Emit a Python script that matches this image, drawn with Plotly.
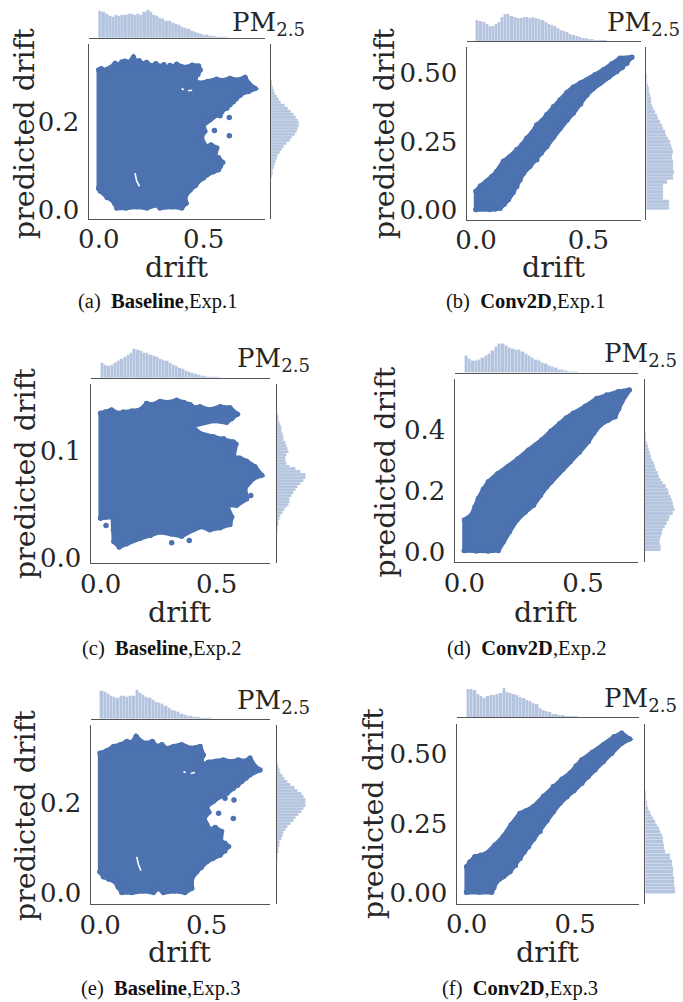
import plotly.graph_objects as go

W, H = 683, 1002
BLUE = "#4C72B0"
INK = "#262626"
SPINE = "#555555"
SERIF = "DejaVu Serif"

# ---- scatter envelopes (drift, predicted drift) ----
a_x = [0,0,.012,.022,.038,.055,.078,.092,.110,.125,.145,.165,.178,.192,.205,.228,.252,.272,.292,.310,.324,.340,.355,.371,.392,.419,.445,.475,.483,.472,.459,.443,.460,.483,.520,.562,.590,.625,.660,.697,.713,.744,.713,.690,.673,.655,.641,.625,.610,.585,.562,.530,.498,.505,.490,.498,.514,.535,.562,.554,.570,.590,.578,.570,.545,.514,.498,.483,.460,.435,.411,.416,.395,.350,.292,.276,.229,.180,.130,.086,.075,.062,.040,.022,.008]
a_y = [.049,.317,.320,.316,.318,.322,.332,.328,.335,.337,.334,.346,.336,.338,.332,.334,.326,.331,.325,.329,.321,.327,.324,.330,.325,.323,.328,.326,.317,.307,.298,.287,.291,.287,.291,.296,.293,.298,.294,.300,.287,.275,.268,.266,.260,.252,.245,.238,.230,.222,.215,.205,.192,.178,.166,.152,.143,.147,.140,.121,.118,.107,.098,.091,.086,.079,.072,.068,.055,.045,.030,.015,.004,.007,.004,.011,.004,.007,.004,.004,.015,.023,.028,.038,.042]
a_dots_x = [.622,.551,.622,.578]
a_dots_y = [.209,.180,.168,.213]
a_gap_x = [.173,.180,.194,None,.395,.405,None,.425,.445]
a_gap_y = [.083,.066,.053,None,.275,.272,None,.270,.271]

b_x = [0,0,.020,.047,.070,.092,.122,.150,.181,.205,.226,.250,.270,.295,.315,.345,.374,.405,.433,.465,.493,.530,.567,.605,.641,.693,.671,.650,.626,.590,.552,.520,.493,.465,.433,.405,.374,.345,.315,.290,.270,.240,.211,.195,.181,.165,.144,.125,.107,.085,.062]
b_y = [.003,.069,.088,.105,.122,.141,.178,.195,.220,.238,.262,.282,.310,.326,.347,.376,.401,.428,.447,.462,.473,.492,.510,.532,.552,.556,.534,.519,.504,.484,.461,.441,.419,.386,.353,.328,.298,.266,.232,.208,.184,.160,.135,.110,.087,.065,.039,.022,.008,.005,.003]

c_x = [0,0,.020,.047,.072,.098,.135,.170,.198,.225,.256,.292,.328,.358,.385,.405,.428,.470,.515,.557,.589,.565,.543,.490,.428,.392,.428,.486,.530,.572,.583,.572,.600,.629,.665,.694,.658,.622,.629,.586,.543,.565,.557,.515,.470,.435,.399,.349,.305,.256,.215,.170,.112,.080,.057,.055,.052]
c_y = [.037,.135,.136,.138,.135,.136,.137,.138,.144,.143,.146,.145,.147,.145,.143,.140,.141,.138,.141,.140,.134,.130,.1265,.128,.1255,.123,.116,.113,.111,.108,.106,.094,.093,.090,.085,.077,.074,.065,.055,.049,.049,.038,.031,.028,.026,.029,.026,.020,.022,.024,.021,.018,.013,.010,.015,.026,.038]
c_dots_x = [.023,.647,.306,.382]
c_dots_y = [.030,.058,.014,.016]

d_x = [0,0,.031,.045,.059,.080,.101,.140,.185,.225,.270,.300,.326,.365,.403,.430,.459,.510,.558,.600,.649,.695,.663,.650,.635,.605,.572,.545,.522,.485,.445,.415,.389,.365,.347,.320,.291,.255,.221,.190,.164,.143,.100,.050]
d_y = [.004,.104,.121,.148,.175,.205,.230,.256,.280,.305,.334,.350,.367,.396,.422,.440,.455,.478,.504,.515,.526,.532,.493,.470,.444,.432,.417,.390,.362,.328,.296,.272,.252,.230,.214,.185,.153,.130,.104,.066,.033,.004,.002,.002]

e_x = [0,0,.030,.063,.095,.125,.150,.169,.195,.219,.245,.266,.290,.313,.345,.383,.425,.469,.484,.475,.461,.508,.545,.578,.615,.648,.680,.703,.727,.750,.703,.685,.664,.645,.625,.595,.563,.530,.500,.510,.488,.500,.516,.540,.570,.566,.585,.602,.585,.563,.530,.500,.475,.453,.430,.430,.398,.350,.297,.273,.250,.205,.150,.102,.085,.070,.040,.016]
e_y = [.048,.311,.316,.326,.330,.337,.335,.348,.336,.333,.337,.326,.330,.321,.326,.330,.322,.326,.307,.294,.281,.291,.293,.296,.292,.296,.293,.300,.281,.274,.263,.256,.248,.240,.233,.222,.215,.204,.193,.180,.167,.153,.141,.146,.137,.115,.111,.104,.094,.085,.078,.070,.058,.048,.033,.011,.002,.005,.002,.011,.002,.005,.002,.002,.014,.026,.032,.037]
e_dots_x = [.628,.556,.625,.586]
e_dots_y = [.207,.178,.166,.211]
e_gap_x = [.172,.180,.192,None,.391,.402,None,.425,.445]
e_gap_y = [.081,.064,.050,None,.270,.268,None,.266,.268]

f_x = [0,0,.015,.038,.065,.092,.130,.169,.205,.246,.275,.308,.355,.400,.440,.477,.505,.531,.580,.631,.680,.715,.751,.715,.669,.630,.592,.560,.531,.495,.462,.430,.400,.370,.338,.310,.285,.265,.246,.225,.200,.170,.138,.125,.115,.060]
f_y = [.004,.095,.112,.131,.136,.143,.172,.203,.245,.286,.296,.310,.347,.382,.408,.430,.456,.477,.505,.531,.560,.573,.552,.537,.501,.471,.442,.418,.394,.368,.346,.322,.292,.260,.221,.195,.167,.148,.125,.100,.078,.060,.042,.020,.004,.004]

# ---- marginal histograms ----
a_top = [82,78,72,66,64,68,66,68,70,72,72,70,72,70,78,84,78,70,66,60,58,52,50,46,42,38,34,30,26,22,18,14,12,10,8,6,5,4,3,2,2,1,1,1,0,0,0,0,0,0]
a_right = [3,5,7,9,12,14,17,21,27,32,40,47,56,64,72,78,82,85,85,82,76,68,60,52,42,30,24,18,13,9,6,4,3,1,1]
b_top = [64,60,56,50,46,46,50,58,72,82,80,74,72,70,70,72,72,70,72,70,66,62,58,52,48,44,40,34,30,26,22,18,15,12,10,8,6,5,4,3,2,2,1,1,0,0,0,0,0,0]
b_right = [70,68,70,50,50,50,50,50,62,80,82,85,82,80,80,78,78,80,78,76,72,65,60,58,50,48,42,36,32,28,22,18,16,14,12,10,8,6,4,3,2,1]
c_top = [45,40,36,40,46,52,58,62,68,76,86,84,80,76,74,70,66,62,58,54,50,44,40,36,30,26,22,18,14,11,9,7,5,4,3,2,2,1,1,0,0,0,0,0,0,0,0,0,0,0]
c_right = [1,3,4,5,7,9,13,17,24,30,35,38,40,44,50,58,62,72,82,88,86,72,56,38,30,28,26,30,36,34,30,26,22,20,18,15,14,13,9,7,6,4]
d_top = [50,42,35,36,40,44,52,58,65,78,86,86,82,76,72,70,68,62,56,52,46,40,35,30,26,22,18,14,10,8,6,4,3,2,1,1,1,0,0,0,0,0,0,0,0,0,0,0,0,0]
d_right = [47,47,46,46,48,50,54,60,65,72,76,85,90,88,85,82,78,72,68,62,55,48,42,38,34,30,26,22,18,14,11,8,6,4,3,2,1]
e_top = [84,80,76,70,66,62,68,68,66,68,70,86,78,72,66,62,58,52,48,44,38,32,28,24,20,16,12,10,8,6,5,4,3,2,2,1,1,0,0,0,0,0,0,0,0,0,0,0,0,0]
e_right = [1,2,3,4,5,6,8,10,14,18,22,28,34,42,50,58,66,74,80,86,88,86,82,74,64,54,42,34,24,18,13,9,6,3,1]
f_top = [84,84,80,70,62,58,64,66,66,68,72,86,76,72,68,66,60,56,52,48,42,38,28,22,18,14,10,8,6,5,4,3,2,2,1,1,0,0,0,0,0,0,0,0,0,0,0,0,0,0]
f_right = [89,89,88,87,87,85,84,84,82,80,76,74,60,58,56,55,54,52,46,42,36,30,24,18,14,10,7,5,4,3,2,1,1]

captions = ["(a)\u00a0\u00a0<b>Baseline</b>,Exp.1", "(b)\u00a0\u00a0<b>Conv2D</b>,Exp.1",
            "(c)\u00a0\u00a0<b>Baseline</b>,Exp.2", "(d)\u00a0\u00a0<b>Conv2D</b>,Exp.2",
            "(e)\u00a0\u00a0<b>Baseline</b>,Exp.3", "(f)\u00a0\u00a0<b>Conv2D</b>,Exp.3"]

panels = [
    dict(bx=a_x, by=a_y, dx=a_dots_x, dy=a_dots_y, gx=a_gap_x, gy=a_gap_y, top=a_top, right=a_right,
         xr=[-.049,.792], yr=[-.021,.376], yt=[0,.2], yl=["0.0","0.2"],
         xb=.015, rs=.071, rd=.0068,
         f=(88.5,265,44,219), tl=38, rl=271, pm=(230,23), cap=(157,302), xt=(177,267), yti=(25,134)),
    dict(bx=b_x, by=b_y, dx=[], dy=[], gx=[], gy=[], top=b_top, right=b_right,
         xr=[-.0415,.734], yr=[-.035,.593], yt=[0,.25,.5], yl=["0.00","0.25","0.50"],
         xb=.0138, rs=0, rd=.0121,
         f=(466.7,641,47,220), tl=41.3, rl=646.3, pm=(605,23), cap=(525.5,302), xt=(554,267), yti=(385,134)),
    dict(bx=c_x, by=c_y, dx=c_dots_x, dy=c_dots_y, gx=[], gy=[], top=c_top, right=c_right,
         xr=[-.043,.730], yr=[-.0053,.162], yt=[0,.1], yl=["0.0","0.1"],
         xb=.0139, rs=.021, rd=.00274,
         f=(90.7,270,384.3,563.3), tl=378, rl=276.7, pm=(235,360), cap=(161,648), xt=(180,612), yti=(25,474)),
    dict(bx=d_x, by=d_y, dx=[], dy=[], gx=[], gy=[], top=d_top, right=d_right,
         xr=[-.041,.733], yr=[-.035,.567], yt=[0,.2,.4], yl=["0.0","0.2","0.4"],
         xb=.014, rs=0, rd=.011,
         f=(454.7,638.3,379.3,562.3), tl=372.7, rl=645, pm=(602,354), cap=(526,648), xt=(546,612), yti=(385,472.5)),
    dict(bx=e_x, by=e_y, dx=e_dots_x, dy=e_dots_y, gx=e_gap_x, gy=e_gap_y, top=e_top, right=e_right,
         xr=[-.044,.797], yr=[-.0244,.373], yt=[0,.2], yl=["0.0","0.2"],
         xb=.015, rs=.063, rd=.0067,
         f=(90.7,270,725.3,904.3), tl=719, rl=276.7, pm=(235,701), cap=(160.7,988), xt=(180,952), yti=(25,816)),
    dict(bx=f_x, by=f_y, dx=[], dy=[], gx=[], gy=[], top=f_top, right=f_right,
         xr=[-.046,.795], yr=[-.037,.607], yt=[0,.25,.5], yl=["0.00","0.25","0.50"],
         xb=.015, rs=0, rd=.0119,
         f=(456.7,639,723.7,903.7), tl=717.3, rl=645.3, pm=(602,699), cap=(520,988), xt=(548,952), yti=(373,814)),
]

HIST_DEPTH = 30
fig = go.Figure()
layout = {}
annotations = []
ax_n = 0

def dom_x(a, b):
    return [a / W, b / W]

def dom_y(top, bottom):
    return [1 - bottom / H, 1 - top / H]

def new_axes():
    global ax_n
    ax_n += 1
    s = "" if ax_n == 1 else str(ax_n)
    return f"x{s}", f"y{s}", f"xaxis{s}", f"yaxis{s}"

def note(text, pos, size, family=SERIF, color=INK, anchor="center", angle=0):
    annotations.append(dict(text=text, x=pos[0] / W, y=1 - pos[1] / H, xref="paper", yref="paper",
                            xanchor=anchor, yanchor="middle", showarrow=False, textangle=angle,
                            font=dict(family=family, size=size, color=color)))

hidden = dict(showgrid=False, zeroline=False, showticklabels=False, ticks="", showline=False, automargin=False)
spine = dict(showline=True, linecolor=SPINE, linewidth=1.2)
tfont = dict(family=SERIF, size=26, color=INK)
hist_style = dict(color="rgba(76,114,176,0.42)", line=dict(color="rgba(255,255,255,0.5)", width=0.4))

for i, p in enumerate(panels):
    L, R, T, B = p["f"]
    # main scatter
    xa, ya, xk, yk = new_axes()
    fig.add_trace(go.Scatter(x=p["bx"] + p["bx"][:1], y=p["by"] + p["by"][:1], mode="lines+markers", fill="toself",
                             fillcolor=BLUE, line=dict(color=BLUE, width=4.5), marker=dict(color=BLUE, size=5.5),
                             xaxis=xa, yaxis=ya, showlegend=False, hoverinfo="skip"))
    if p["dx"]:
        fig.add_trace(go.Scatter(x=p["dx"], y=p["dy"], mode="markers", marker=dict(color=BLUE, size=5.5),
                                 xaxis=xa, yaxis=ya, showlegend=False, hoverinfo="skip"))
    if p["gx"]:
        fig.add_trace(go.Scatter(x=p["gx"], y=p["gy"], mode="lines", line=dict(color="white", width=1.6),
                                 xaxis=xa, yaxis=ya, showlegend=False, hoverinfo="skip"))
    layout[xk] = dict(domain=dom_x(L, R), range=p["xr"], anchor=ya, showgrid=False, zeroline=False, automargin=False,
                      **spine, tickvals=[0, .5], ticktext=["0.0", "0.5"], ticks="outside", ticklen=0,
                      ticklabelstandoff=-3, tickcolor="rgba(0,0,0,0)", tickfont=tfont)
    layout[yk] = dict(domain=dom_y(T, B), range=p["yr"], anchor=xa, showgrid=False, zeroline=False, automargin=False,
                      **spine, tickvals=p["yt"], ticktext=p["yl"], ticks="outside", ticklen=3,
                      tickcolor="rgba(0,0,0,0)", tickfont=tfont)
    # top marginal
    xa, ya, xk, yk = new_axes()
    fig.add_trace(go.Bar(y=p["top"], x0=p["xb"] / 2, dx=p["xb"], width=p["xb"], marker=hist_style,
                         xaxis=xa, yaxis=ya, showlegend=False, hoverinfo="skip"))
    layout[xk] = dict(domain=dom_x(L, R), range=p["xr"], anchor=ya, **{**hidden, **spine})
    layout[yk] = dict(domain=dom_y(p["tl"] - HIST_DEPTH, p["tl"]), range=[0, 90], anchor=xa, **hidden)
    # right marginal
    xa, ya, xk, yk = new_axes()
    fig.add_trace(go.Bar(x=p["right"], y0=p["rs"] + p["rd"] / 2, dy=p["rd"], width=p["rd"], orientation="h",
                         marker=hist_style, xaxis=xa, yaxis=ya, showlegend=False, hoverinfo="skip"))
    layout[xk] = dict(domain=dom_x(p["rl"], p["rl"] + HIST_DEPTH), range=[0, 90], anchor=ya, **hidden)
    layout[yk] = dict(domain=dom_y(T, B), range=p["yr"], anchor=xa, **{**hidden, **spine})
    # texts
    note("PM<sub>2.5</sub>", p["pm"], 26, anchor="left")
    note(captions[i], p["cap"], 20.5, family="Liberation Serif", color="#111111")
    note("drift", p["xt"], 28.5)
    note("predicted drift", p["yti"], 28.5, angle=-90)

fig.update_layout(template="none", width=W, height=H, margin=dict(l=0, r=0, t=0, b=0), paper_bgcolor="white",
                  plot_bgcolor="white", annotations=annotations, bargap=0, **layout)
fig.write_html("out.html", post_script="document.body.style.margin='0';",
               config=dict(displayModeBar=False))
